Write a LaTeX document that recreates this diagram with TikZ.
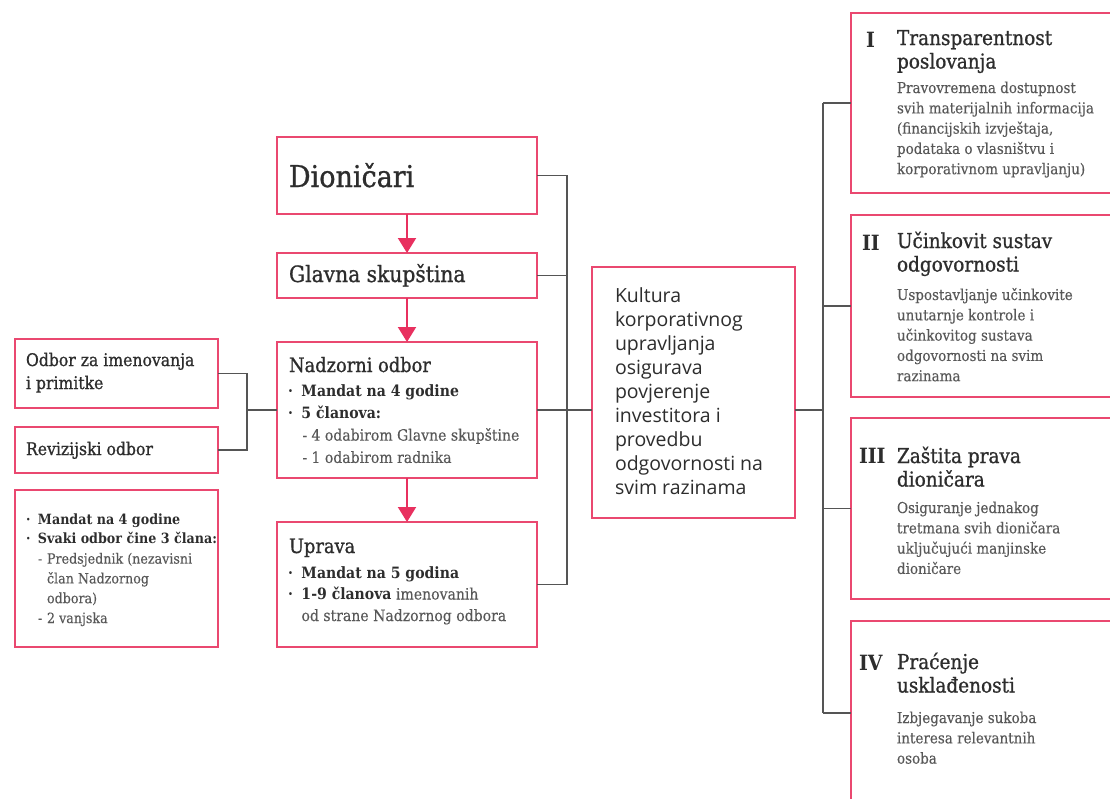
\documentclass[tikz,border=0pt]{standalone}
\usepackage{fontspec}
\setmainfont{DejaVu Serif}[FakeStretch=0.9,UprightFeatures={FakeBold=0.25}]
\newfontfamily\hdfont{DejaVu Serif}[FakeStretch=0.9,FakeBold=0.9]
\newfontfamily\kfont{Open Sans}
\usetikzlibrary{arrows.meta}
\definecolor{pinkb}{RGB}{234,72,112}
\definecolor{arr}{RGB}{232,48,95}
\definecolor{ink}{RGB}{45,45,45}
\definecolor{bodyc}{RGB}{88,88,88}
\definecolor{connc}{RGB}{85,85,85}
\newcommand{\bul}{\makebox[13.5pt][l]{\textbf{·}}}
\newcommand{\dsh}{\makebox[9pt][l]{-}}
\newcommand{\ml}[1]{\begin{tabular}[t]{@{}l@{}}#1\end{tabular}}
\begin{document}
\begin{tikzpicture}[x=1pt,y=-1pt,
  box/.style={draw=pinkb,line width=1.3pt,anchor=north west,inner sep=0pt,outer sep=0pt,fill=white},
  lbl/.style={anchor=base west,inner sep=0pt,outer sep=0pt,text=ink},
  conn/.style={draw=connc,line width=1.2pt},
  flow/.style={draw=arr,line width=2pt,-{Triangle[length=15pt,width=18pt]}},
  hd/.style={lbl,font=\hdfont\fontsize{20.5}{23.5}\selectfont},
  bd/.style={lbl,text=bodyc,font=\fontsize{15}{20.3}\selectfont},
  num/.style={lbl,font=\fontsize{21}{24}\selectfont\bfseries},
]
\useasboundingbox (0,0) rectangle (1110,798);
\clip (0,0) rectangle (1110,798);

% coordinates for buses
\coordinate (kl) at (247,0);
\coordinate (kx) at (567,0);
\coordinate (kr) at (823,0);

% boxes
\node[box,minimum width=260pt,minimum height=77pt] (dio) at (277,137) {};
\node[box,minimum width=260pt,minimum height=45pt] (gla) at (277,253) {};
\node[box,minimum width=260pt,minimum height=136pt] (nad) at (277,342) {};
\node[box,minimum width=260pt,minimum height=125pt] (upr) at (277,522) {};
\node[box,minimum width=203pt,minimum height=69pt] (odb) at (15,339) {};
\node[box,minimum width=203pt,minimum height=46pt] (rev) at (15,427) {};
\node[box,minimum width=203pt,minimum height=157pt] (mem) at (15,490) {};
\node[box,minimum width=203pt,minimum height=251pt] (ku) at (592,267) {};
\node[box,minimum width=280pt,minimum height=180pt] (r1) at (851,13) {};
\node[box,minimum width=280pt,minimum height=182pt] (r2) at (851,215) {};
\node[box,minimum width=280pt,minimum height=181pt] (r3) at (851,418) {};
\node[box,minimum width=280pt,minimum height=184pt] (r4) at (851,621) {};

% flow arrows
\draw[flow] (dio.south) -- (gla.north);
\draw[flow] (gla.south) -- (nad.north);
\draw[flow] (nad.south) -- (upr.north);

% connectors
\draw[conn] (odb.east) -- (odb.east -| kl) -- (rev.east -| kl) -- (rev.east);
\draw[conn] (nad.west -| kl) -- (nad.west);
\draw[conn] (dio.east) -- (dio.east -| kx) -- (upr.east -| kx) -- (upr.east);
\draw[conn] (gla.east) -- (gla.east -| kx);
\draw[conn] (nad.east) -- (ku.west |- nad.east);
\draw[conn] (ku.east |- nad.east) -- (nad.east -| kr);
\draw[conn] (r1.west -| kr) -- (r4.west -| kr);
\draw[conn] (r1.west -| kr) -- (r1.west);
\draw[conn] (r2.west -| kr) -- (r2.west);
\draw[conn] (r3.west -| kr) -- (r3.west);
\draw[conn] (r4.west -| kr) -- (r4.west);

% texts
\node[lbl,font=\hdfont\fontsize{30}{36}\selectfont] (tdio) at (289,187) {Dioničari};
\node[lbl,font=\hdfont\fontsize{22.5}{24}\selectfont] (tgla) at (289,282) {Glavna skupština};
\node[lbl,font=\hdfont\fontsize{19.8}{24}\selectfont] (tnad) at (289,372) {Nadzorni odbor};
\node[lbl,font=\fontsize{15.6}{22.3}\selectfont] (lnad) at (288,396)
  {\ml{\bul\textbf{Mandat na 4 godine}\\
   \bul\textbf{5 članova:}\\
   \hspace*{14.5pt}\color{bodyc}\dsh 4 odabirom Glavne skupštine\\
   \hspace*{14.5pt}\color{bodyc}\dsh 1 odabirom radnika}};
\node[lbl,font=\hdfont\fontsize{19.8}{24}\selectfont] (tupr) at (289,553) {Uprava};
\node[lbl,font=\fontsize{15.6}{21.5}\selectfont] (lupr) at (288,578)
  {\ml{\bul\textbf{Mandat na 5 godina}\\
   \bul\textbf{1-9 članova} {\color{bodyc}imenovanih}\\
   \hspace*{13.5pt}\color{bodyc}od strane Nadzornog odbora}};
\node[lbl,font=\hdfont\fontsize{17.4}{23}\selectfont] (todb) at (26,366) {\ml{Odbor za imenovanja\\i primitke}};
\node[lbl,font=\hdfont\fontsize{17.4}{23}\selectfont] (trev) at (26,455) {Revizijski odbor};
\node[lbl,font=\fontsize{14.1}{19.8}\selectfont] (lmem) at (26,524)
  {\ml{\makebox[12pt][l]{\textbf{·}}\textbf{Mandat na 4 godine}\\
   \makebox[12pt][l]{\textbf{·}}\textbf{Svaki odbor čine 3 člana:}\\
   \hspace*{12pt}\color{bodyc}\dsh Predsjednik (nezavisni\\
   \hspace*{21pt}\color{bodyc}član Nadzornog\\
   \hspace*{21pt}\color{bodyc}odbora)\\
   \hspace*{12pt}\color{bodyc}\dsh 2 vanjska}};
\node[lbl,font=\kfont\fontsize{19.5}{24}\selectfont] (tku) at (615,302)
  {\ml{Kultura\\korporativnog\\upravljanja\\osigurava\\povjerenje\\investitora i\\provedbu\\odgovornosti na\\svim razinama}};

% right column
\node[num] (n1) at (866,47) {I};
\node[hd] (h1) at (897,45) {\ml{Transparentnost\\poslovanja}};
\node[bd] (b1) at (897,93) {\ml{Pravovremena dostupnost\\svih materijalnih informacija\\(financijskih izvještaja,\\podataka o vlasništvu i\\korporativnom upravljanju)}};
\node[num] (n2) at (862,250) {II};
\node[hd] (h2) at (897,248) {\ml{Učinkovit sustav\\odgovornosti}};
\node[bd] (b2) at (897,300) {\ml{Uspostavljanje učinkovite\\unutarnje kontrole i\\učinkovitog sustava\\odgovornosti na svim\\razinama}};
\node[num] (n3) at (859,463) {III};
\node[hd] (h3) at (897,463) {\ml{Zaštita prava\\dioničara}};
\node[bd] (b3) at (897,513) {\ml{Osiguranje jednakog\\tretmana svih dioničara\\uključujući manjinske\\dioničare}};
\node[num] (n4) at (859,670) {IV};
\node[hd] (h4) at (897,669) {\ml{Praćenje\\usklađenosti}};
\node[bd] (b4) at (897,723) {\ml{Izbjegavanje sukoba\\interesa relevantnih\\osoba}};
\end{tikzpicture}
\end{document}
